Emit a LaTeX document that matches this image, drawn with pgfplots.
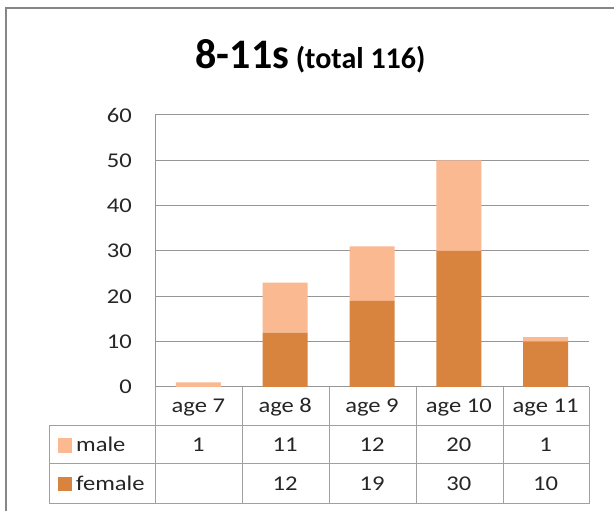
\documentclass[border=0pt]{standalone}
\usepackage{pgfplots}
\pgfplotsset{compat=1.18}
\usepackage{fontspec}
\setmainfont{Carlito}
\newfontfamily\tabfont[FakeStretch=1.17]{Carlito}
\definecolor{female}{RGB}{217,132,62}
\definecolor{male}{RGB}{250,185,145}
\definecolor{gridgray}{RGB}{150,150,150}
\definecolor{tabgray}{RGB}{160,160,160}
\definecolor{bordergray}{RGB}{134,134,134}
\newcommand{\tf}{\tabfont\fontsize{21}{25}\selectfont}
\tikzset{tabtext/.style={anchor=base, font=\tf, text=black!85, inner sep=0pt}}
\begin{document}
\begin{tikzpicture}
\path[use as bounding box] (0,0) rectangle (614pt,511pt);
\fill[white] (0,0) rectangle (614pt,511pt);
% outer chart border
\draw[bordergray, line width=1.5pt] (6pt,0pt) -- (6pt,503pt) -- (614pt,503pt);
% title
\node[anchor=base] at (310.5pt,442pt) {\bfseries\fontsize{42}{48}\selectfont 8-11s\fontsize{30}{36}\selectfont\ (total 116)};
\begin{axis}[
  at={(155pt,124pt)}, anchor=south west,
  scale only axis, width=434pt, height=272pt,
  xmin=-0.5, xmax=4.5, ymin=0, ymax=60,
  ybar stacked, bar width=45pt,
  axis x line*=bottom, axis y line*=left,
  axis line style={draw=gridgray, line width=1pt},
  ymajorgrids, grid style={draw=gridgray, line width=1pt},
  major tick length=0pt,
  ytick={0,10,...,60},
  xtick={0,1,2,3,4},
  xticklabels={age 7,age 8,age 9,age 10,age 11},
  /pgf/number format/assume math mode=true,
  ticklabel style={font=\tf, text=black!85},
  yticklabel style={anchor=east, inner sep=0pt, xshift=-23pt},
  xticklabel style={anchor=base, inner sep=0pt, yshift=-26pt},
  clip=false,
]
\addplot[fill=female, draw=none] coordinates {(0,0) (1,12) (2,19) (3,30) (4,10)};
\addplot[fill=male, draw=none] coordinates {(0,1) (1,11) (2,12) (3,20) (4,1)};
% data table text
\node[tabtext] at ([yshift=-65pt]axis cs:0,0) {1};
\node[tabtext] at ([yshift=-65pt]axis cs:1,0) {11};
\node[tabtext] at ([yshift=-65pt]axis cs:2,0) {12};
\node[tabtext] at ([yshift=-65pt]axis cs:3,0) {20};
\node[tabtext] at ([yshift=-65pt]axis cs:4,0) {1};
\node[tabtext] at ([yshift=-104pt]axis cs:1,0) {12};
\node[tabtext] at ([yshift=-104pt]axis cs:2,0) {19};
\node[tabtext] at ([yshift=-104pt]axis cs:3,0) {30};
\node[tabtext] at ([yshift=-104pt]axis cs:4,0) {10};
\end{axis}
% table grid
\begin{scope}[tabgray, line width=1pt]
\draw (49pt,85pt) -- (589pt,85pt);
\draw (49pt,47pt) -- (589pt,47pt);
\draw (49pt,7pt) -- (589pt,7pt);
\draw (49pt,85pt) -- (49pt,7pt);
\foreach \x in {155,242.8,329.6,416.4,503.2,589}{
  \draw (\x pt,124pt) -- (\x pt,7pt);
}
\end{scope}
% legend keys in table
\fill[male] (58pt,58pt) rectangle (72pt,73pt);
\fill[female] (58pt,20pt) rectangle (72pt,34pt);
\node[anchor=base west, font=\tf, text=black!85, inner sep=0pt] at (76pt,59pt) {male};
\node[anchor=base west, font=\tf, text=black!85, inner sep=0pt] at (76pt,20pt) {female};
\end{tikzpicture}
\end{document}
